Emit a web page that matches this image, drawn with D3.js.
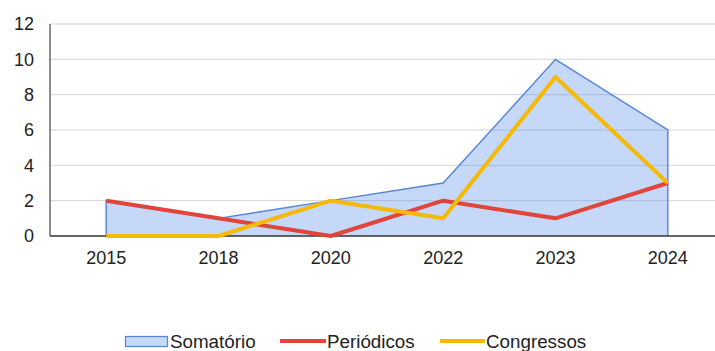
<!DOCTYPE html>
<html>
<head>
<meta charset="utf-8">
<script src="https://cdn.jsdelivr.net/npm/d3@7"></script>
<style>
  html, body { margin: 0; padding: 0; background: #fff; }
  svg { display: block; font-family: "Liberation Sans", Arial, sans-serif; }
</style>
</head>
<body>
<svg id="chart" width="715" height="351"></svg>
<script>
// Publication counts per year
const years = ["2015", "2018", "2020", "2022", "2023", "2024"];
const somatorio = [2, 1, 2, 3, 10, 6];
const periodicos = [2, 1, 0, 2, 1, 3];
const congressos = [0, 0, 2, 1, 9, 3];
const yTicks = [0, 2, 4, 6, 8, 10, 12];

const svg = d3.select("#chart");
const plotLeft = 50, plotRight = 724, plotTop = 24, plotBottom = 236;

const x = d3.scalePoint().domain(years).range([plotLeft, plotRight]).padding(0.5);
const y = d3.scaleLinear().domain([0, 12]).range([plotBottom, plotTop]);

// horizontal gridlines
svg.append("g").selectAll("line").data(yTicks.filter(d => d > 0)).join("line")
  .attr("x1", plotLeft).attr("x2", 715)
  .attr("y1", d => y(d)).attr("y2", d => y(d))
  .attr("stroke", "#d4d4d4").attr("stroke-width", 1);

// stacked total as a filled area with outline
const area = d3.area()
  .x((d, i) => x(years[i]))
  .y0(y(0))
  .y1(d => y(d));
svg.append("path").datum(somatorio)
  .attr("d", area)
  .attr("fill", "rgba(74,134,232,0.32)");
const outline = [[x(years[0]), y(0)]]
  .concat(somatorio.map((d, i) => [x(years[i]), y(d)]))
  .concat([[x(years[years.length - 1]), y(0)]]);
svg.append("path")
  .attr("d", d3.line()(outline))
  .attr("fill", "none")
  .attr("stroke", "#5584d4").attr("stroke-width", 1.4);

// axes
svg.append("line").attr("x1", plotLeft).attr("x2", plotLeft).attr("y1", plotTop).attr("y2", plotBottom)
  .attr("stroke", "#444").attr("stroke-width", 1.2);
svg.append("line").attr("x1", plotLeft).attr("x2", 715).attr("y1", plotBottom).attr("y2", plotBottom)
  .attr("stroke", "#333").attr("stroke-width", 1.4);

// series lines
const line = d3.line().x((d, i) => x(years[i])).y(d => y(d));
svg.append("path").datum(periodicos).attr("d", line)
  .attr("fill", "none").attr("stroke", "#e0443a").attr("stroke-width", 4)
  .attr("stroke-linejoin", "round");
svg.append("path").datum(congressos).attr("d", line)
  .attr("fill", "none").attr("stroke", "#f5b907").attr("stroke-width", 4)
  .attr("stroke-linejoin", "round");

// tick labels
svg.append("g").selectAll("text").data(yTicks).join("text")
  .attr("x", 34).attr("y", d => y(d)).attr("dy", "0.35em")
  .attr("text-anchor", "end").attr("font-size", 18).attr("fill", "#222")
  .text(d => d);
svg.append("g").selectAll("text").data(years).join("text")
  .attr("x", d => x(d)).attr("y", 264)
  .attr("text-anchor", "middle").attr("font-size", 18).attr("fill", "#222")
  .text(d => d);

// legend
const lg = svg.append("g").attr("font-size", 18.8).attr("fill", "#222");
lg.append("rect").attr("x", 125.5).attr("y", 336.5).attr("width", 42).attr("height", 10)
  .attr("fill", "#c6d9f7").attr("stroke", "#5584d4").attr("stroke-width", 1.2);
lg.append("text").attr("x", 170).attr("y", 348).text("Somatório");
lg.append("line").attr("x1", 280).attr("x2", 326).attr("y1", 341).attr("y2", 341)
  .attr("stroke", "#e0443a").attr("stroke-width", 4);
lg.append("text").attr("x", 327).attr("y", 348).text("Periódicos");
lg.append("line").attr("x1", 440).attr("x2", 485).attr("y1", 341).attr("y2", 341)
  .attr("stroke", "#f5b907").attr("stroke-width", 4);
lg.append("text").attr("x", 486).attr("y", 348).text("Congressos");
</script>
</body>
</html>
